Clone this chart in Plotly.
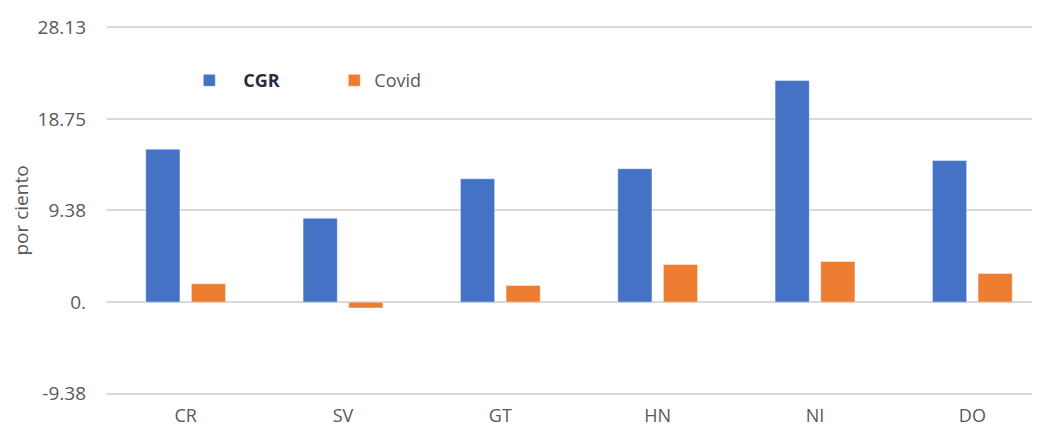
import plotly.graph_objects as go

categories = ["CR", "SV", "GT", "HN", "NI", "DO"]
cgr_values = [15.65, 8.59, 12.62, 13.65, 22.68, 14.5]
covid_values = [1.88, -0.6, 1.71, 3.86, 4.16, 2.94]
tick_values = [-9.38, 0, 9.38, 18.75, 28.13]
tick_labels = ["-9.38", "0.", "9.38", "18.75", "28.13"]

fig = go.Figure()
fig.add_trace(go.Bar(
    x=categories, y=cgr_values,
    name="&nbsp;&nbsp;&nbsp;<b><span style='color:#2b2b3a'>CGR</span></b>",
    marker=dict(color="#4472C4", line=dict(color="rgba(255,255,255,0.45)", width=1)),
))
fig.add_trace(go.Bar(
    x=categories, y=covid_values, name="Covid",
    marker=dict(color="#ED7D31", line=dict(color="rgba(255,255,255,0.45)", width=1)),
))

fig.update_layout(
    width=1032, height=422,
    margin=dict(l=99, r=0, t=18, b=35),
    paper_bgcolor="white", plot_bgcolor="white",
    barmode="group", bargap=0.42, bargroupgap=0.25,
    font=dict(family="Open Sans, Liberation Sans, sans-serif", size=18, color="#595959"),
    showlegend=True,
    legend=dict(orientation="h", x=0.0882, y=0.852, xanchor="left", yanchor="middle",
                entrywidth=100, font=dict(size=18, color="#595959"),
                bgcolor="rgba(0,0,0,0)"),
    xaxis=dict(range=[-0.5, 5.43], showgrid=False, showline=False, ticks="",
               automargin=False,
               ticklabelstandoff=8, tickfont=dict(size=18, color="#595959")),
    yaxis=dict(range=[-9.5, 28.25], tickvals=tick_values, ticktext=tick_labels,
               showgrid=True, gridcolor="#D9D9D9", gridwidth=2, zeroline=False,
               showline=False, ticks="", ticklabelstandoff=20, automargin=False,
               tickfont=dict(size=19, color="#595959"),
               title=dict(text="por ciento", font=dict(size=19, color="#595959"), standoff=6)),
)

fig.write_html("out.html", config={"displayModeBar": False})
